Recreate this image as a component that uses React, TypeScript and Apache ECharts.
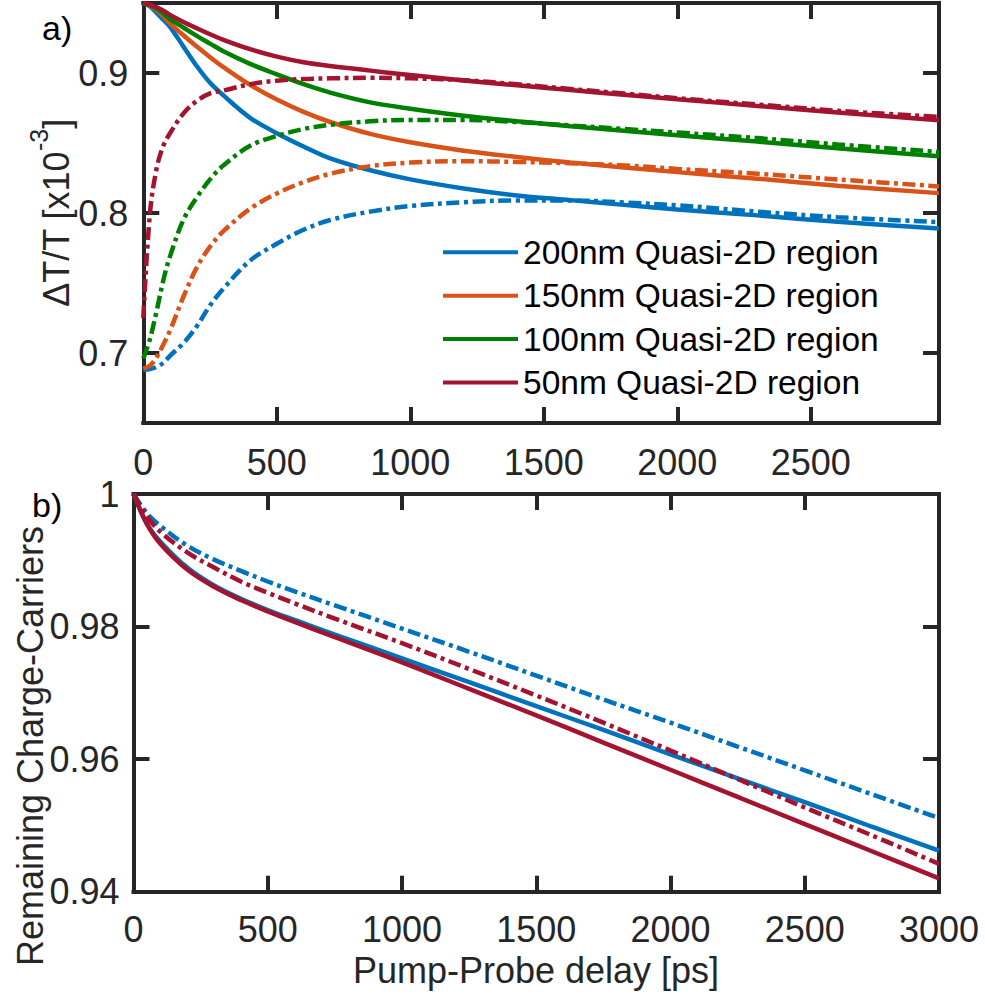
import React, { useEffect, useRef } from "react";
import * as echarts from "echarts";

// ---------- Panel a) : ΔT/T vs delay ----------
const tTop = [0, 25, 50, 75, 100, 150, 200, 250, 300, 400, 500, 600, 700, 850, 1000, 1200, 1400, 1600, 1800, 2000, 2300, 2600, 2980];

const solid200 = [0.950, 0.9475, 0.943, 0.938, 0.933, 0.919, 0.905, 0.893, 0.884, 0.868, 0.857, 0.8475, 0.839, 0.8305, 0.824, 0.8175, 0.8125, 0.8092, 0.8058, 0.8025, 0.7983, 0.7937, 0.789];
const dash200 = [0.688, 0.6885, 0.690, 0.693, 0.698, 0.707, 0.719, 0.734, 0.746, 0.766, 0.778, 0.788, 0.795, 0.801, 0.805, 0.8077, 0.809, 0.809, 0.8075, 0.8055, 0.801, 0.797, 0.7935];

const solid150 = [0.950, 0.948, 0.945, 0.9405, 0.9355, 0.927, 0.919, 0.9113, 0.9042, 0.8915, 0.881, 0.8722, 0.865, 0.8565, 0.8505, 0.8445, 0.840, 0.836, 0.8325, 0.8292, 0.8245, 0.8195, 0.8142];
const dash150 = [0.689, 0.691, 0.697, 0.706, 0.716, 0.740, 0.761, 0.776, 0.787, 0.803, 0.814, 0.822, 0.828, 0.8335, 0.836, 0.837, 0.8365, 0.8355, 0.834, 0.8315, 0.828, 0.824, 0.819];

const solid100 = [0.950, 0.9485, 0.946, 0.9425, 0.9385, 0.9325, 0.9265, 0.921, 0.9155, 0.9065, 0.899, 0.892, 0.886, 0.879, 0.8745, 0.8695, 0.8655, 0.862, 0.8587, 0.8555, 0.851, 0.8462, 0.8405];
const dash100 = [0.696, 0.710, 0.730, 0.752, 0.769, 0.795, 0.811, 0.824, 0.834, 0.848, 0.855, 0.860, 0.863, 0.8655, 0.8665, 0.8665, 0.865, 0.8625, 0.860, 0.8575, 0.8535, 0.849, 0.8436];

const solid50 = [0.950, 0.9488, 0.947, 0.9445, 0.9415, 0.9365, 0.932, 0.9277, 0.9237, 0.917, 0.9117, 0.9077, 0.905, 0.9017, 0.8985, 0.8947, 0.8912, 0.8878, 0.8845, 0.8812, 0.8765, 0.8718, 0.8663];
const dash50 = [0.725, 0.800, 0.832, 0.848, 0.857, 0.871, 0.880, 0.8855, 0.8875, 0.892, 0.8945, 0.8957, 0.8962, 0.8966, 0.8962, 0.8949, 0.8919, 0.8886, 0.8853, 0.882, 0.8775, 0.873, 0.8687];

// ---------- Panel b) : remaining charge carriers ----------
const tBottom = [0, 50, 100, 200, 300, 400, 500, 600, 750, 1000, 1250, 1500, 1750, 2000, 2250, 2500, 2750, 3000];
const carriers200Solid = [1.0, 0.9955, 0.9928, 0.9889, 0.9862, 0.9842, 0.9825, 0.981, 0.9788, 0.9752, 0.9716, 0.968, 0.9644, 0.9607, 0.9571, 0.9535, 0.9498, 0.9462];
const carriers200Dash = [1.0, 0.9971, 0.9952, 0.9922, 0.9901, 0.9884, 0.9868, 0.9853, 0.9832, 0.9797, 0.9762, 0.9726, 0.969, 0.9655, 0.9619, 0.9583, 0.9547, 0.9511];
const carriers50Solid = [1.0, 0.9955, 0.9925, 0.9886, 0.986, 0.984, 0.9823, 0.9807, 0.9784, 0.9746, 0.9706, 0.9666, 0.9625, 0.9584, 0.9543, 0.9502, 0.9461, 0.942];
const carriers50Dash = [1.0, 0.9966, 0.9943, 0.9912, 0.9889, 0.9868, 0.9851, 0.9835, 0.9812, 0.9775, 0.9736, 0.9696, 0.9655, 0.9613, 0.957, 0.9527, 0.9485, 0.9442];

// ---------- ticks & labels ----------
const xTicksTop = [0, 500, 1000, 1500, 2000, 2500];
const xTicksBottom = [0, 500, 1000, 1500, 2000, 2500, 3000];
const yTicksTop = [0.7, 0.8, 0.9];
const yTicksBottom = [0.94, 0.96, 0.98, 1];
const legendNames = ["200nm Quasi-2D region", "150nm Quasi-2D region", "100nm Quasi-2D region", "50nm Quasi-2D region"];
const colors = ["#0072BD", "#D95319", "#008000", "#A2142F"];

const FONT = "'Liberation Sans', Arial, Helvetica, sans-serif";
const AXIS_COLOR = "#262626";
const DASHDOT = [13, 4.5, 4, 4.5];
const LW = 4.5;

function zip(t: number[], v: number[]) {
  return t.map((x, i) => [x, v[i]]);
}

export default function App() {
  const ref = useRef<HTMLDivElement>(null);

  useEffect(() => {
    if (!ref.current) return;
    const chart = echarts.init(ref.current, null, { renderer: "svg" });

    const axisLine = { show: true, onZero: false, lineStyle: { color: AXIS_COLOR, width: 4, cap: "square" } };
    const tick = (vals: number[]) => ({
      show: true,
      inside: true,
      length: 16,
      customValues: vals,
      lineStyle: { color: AXIS_COLOR, width: 4 },
    });
    const label = (vals: number[], margin: number, fmt: (v: number) => string) => ({
      show: true,
      customValues: vals,
      formatter: fmt,
      fontSize: 36,
      fontFamily: FONT,
      color: AXIS_COLOR,
      margin,
    });
    const hiddenLabel = { show: false };
    const fmtX = (v: number) => String(Math.round(v));
    const fmtY = (v: number) => String(+Number(v).toFixed(2));

    const topData = [
      [solid200, dash200],
      [solid150, dash150],
      [solid100, dash100],
      [solid50, dash50],
    ];

    const series: any[] = [];
    topData.forEach(([s, d], i) => {
      series.push({
        name: legendNames[i],
        type: "line",
        xAxisIndex: 0,
        yAxisIndex: 0,
        data: zip(tTop, s),
        showSymbol: false,
        symbol: "none",
        smooth: 0.35,
        color: colors[i],
        lineStyle: { color: colors[i], width: LW },
      });
      series.push({
        name: legendNames[i] + " (dash-dot)",
        type: "line",
        xAxisIndex: 0,
        yAxisIndex: 0,
        data: zip(tTop, d),
        showSymbol: false,
        symbol: "none",
        smooth: 0.35,
        color: colors[i],
        lineStyle: { color: colors[i], width: LW, type: DASHDOT },
      });
    });

    const bottomData: [number[], string, boolean][] = [
      [carriers200Dash, colors[0], true],
      [carriers200Solid, colors[0], false],
      [carriers50Dash, colors[3], true],
      [carriers50Solid, colors[3], false],
    ];
    bottomData.forEach(([v, c, dashed], i) => {
      series.push({
        name: "carriers-" + i,
        type: "line",
        xAxisIndex: 2,
        yAxisIndex: 2,
        data: zip(tBottom, v),
        showSymbol: false,
        symbol: "none",
        smooth: 0.35,
        color: c,
        lineStyle: dashed ? { color: c, width: LW, type: DASHDOT } : { color: c, width: LW },
      });
    });

    chart.setOption({
      animation: false,
      backgroundColor: "#ffffff",
      grid: [
        { left: 143.3, top: 3, width: 795.7, height: 420 },
        { left: 133.5, top: 494, width: 805.5, height: 397.7 },
      ],
      xAxis: [
        { type: "value", gridIndex: 0, min: 0, max: 2980, position: "bottom", axisLine, axisTick: tick(xTicksTop), axisLabel: label(xTicksTop, 21, fmtX), splitLine: { show: false } },
        { type: "value", gridIndex: 0, min: 0, max: 2980, position: "top", axisLine, axisTick: tick(xTicksTop), axisLabel: hiddenLabel, splitLine: { show: false } },
        { type: "value", gridIndex: 1, min: 0, max: 3000, position: "bottom", axisLine, axisTick: tick(xTicksBottom), axisLabel: label(xTicksBottom, 20, fmtX), splitLine: { show: false } },
        { type: "value", gridIndex: 1, min: 0, max: 3000, position: "top", axisLine, axisTick: tick(xTicksBottom), axisLabel: hiddenLabel, splitLine: { show: false } },
      ],
      yAxis: [
        { type: "value", gridIndex: 0, min: 0.65, max: 0.95, position: "left", axisLine, axisTick: tick(yTicksTop), axisLabel: label(yTicksTop, 15, fmtY), splitLine: { show: false } },
        { type: "value", gridIndex: 0, min: 0.65, max: 0.95, position: "right", axisLine, axisTick: tick(yTicksTop), axisLabel: hiddenLabel, splitLine: { show: false } },
        { type: "value", gridIndex: 1, min: 0.94, max: 1, position: "left", axisLine, axisTick: tick(yTicksBottom), axisLabel: label(yTicksBottom, 14, fmtY), splitLine: { show: false } },
        { type: "value", gridIndex: 1, min: 0.94, max: 1, position: "right", axisLine, axisTick: tick(yTicksBottom), axisLabel: hiddenLabel, splitLine: { show: false } },
      ],
      legend: {
        show: true,
        data: legendNames.map((n) => ({ name: n, icon: "rect" })),
        orient: "vertical",
        left: 443,
        top: 235.3,
        padding: 0,
        itemWidth: 75,
        itemHeight: 4,
        itemGap: 9.4,
        selectedMode: false,
        textStyle: { fontSize: 33.5, fontFamily: FONT, color: "#000000", lineHeight: 34 },
      },
      graphic: [
        { type: "text", x: 42, y: 28, style: { text: "a)", fontSize: 34, fontFamily: FONT, fill: "#000000", align: "left", verticalAlign: "middle" } },
        { type: "text", x: 32, y: 505, style: { text: "b)", fontSize: 34, fontFamily: FONT, fill: "#000000", align: "left", verticalAlign: "middle" } },
        {
          type: "text",
          x: 50,
          y: 213,
          rotation: Math.PI / 2,
          style: {
            text: "{m|ΔT/T [x10}{s|-3}{m|]}",
            align: "center",
            verticalAlign: "middle",
            fill: AXIS_COLOR,
            rich: {
              m: { fontSize: 36, fontFamily: FONT, fill: AXIS_COLOR, lineHeight: 48, verticalAlign: "bottom" },
              s: { fontSize: 25, fontFamily: FONT, fill: AXIS_COLOR, lineHeight: 25, verticalAlign: "top" },
            },
          },
        },
        {
          type: "text",
          x: 30,
          y: 746,
          rotation: Math.PI / 2,
          style: { text: "Remaining Charge-Carriers", fontSize: 36, fontFamily: FONT, fill: AXIS_COLOR, align: "center", verticalAlign: "middle" },
        },
        {
          type: "text",
          x: 536,
          y: 970,
          style: { text: "Pump-Probe delay [ps]", fontSize: 36, fontFamily: FONT, fill: AXIS_COLOR, align: "center", verticalAlign: "middle" },
        },
      ],
      series,
    });

    return () => {
      chart.dispose();
    };
  }, []);

  return (
    <div
      ref={ref}
      style={{ position: "fixed", left: 0, top: 0, width: 985, height: 1006, background: "#ffffff" }}
    />
  );
}
